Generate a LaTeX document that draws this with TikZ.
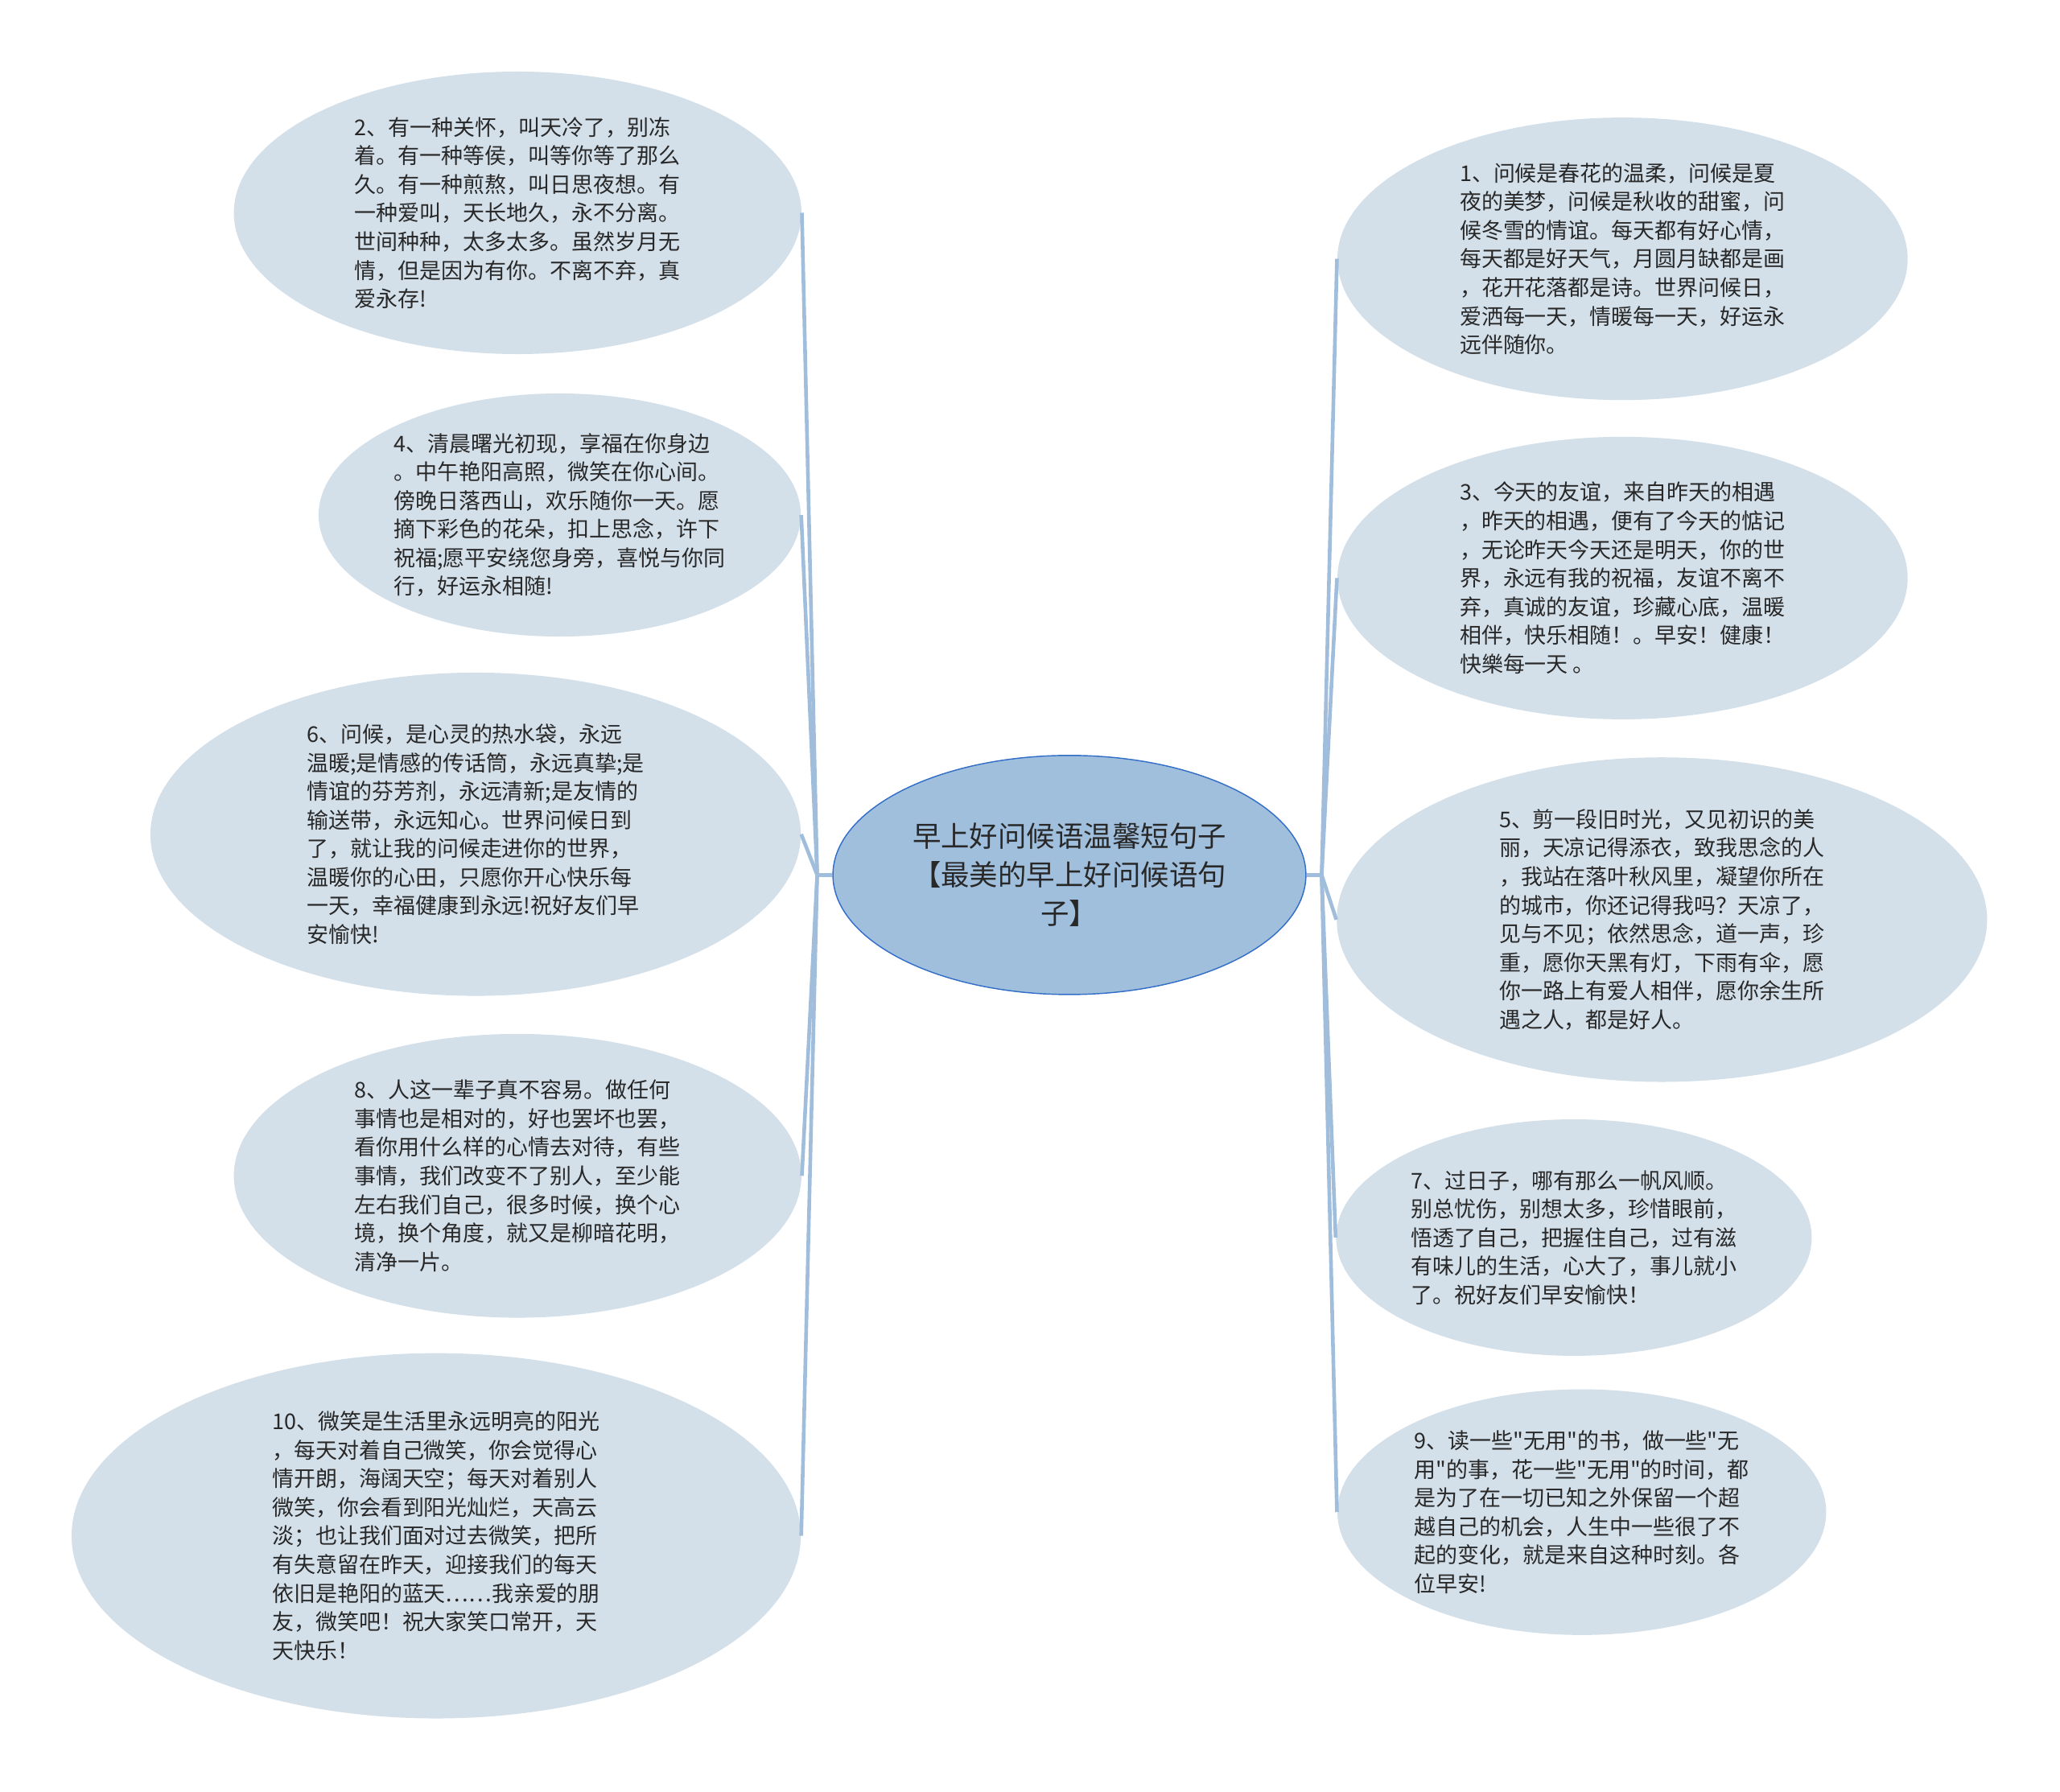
\documentclass[tikz,border=0pt]{standalone}
\usepackage{fontspec}
\setmainfont{Noto Sans CJK SC}[Ligatures=TeXOff]
\usepackage{xcolor}
\usetikzlibrary{shapes.geometric}
\definecolor{leaffill}{RGB}{211,224,234}
\definecolor{rootfill}{RGB}{160,191,221}
\definecolor{rootline}{RGB}{50,110,200}
\definecolor{linkblue}{RGB}{160,190,219}
\definecolor{textgray}{RGB}{40,40,40}

\begin{document}
\begin{tikzpicture}[
  x=0.2mm, y=-0.2mm,
  leaf/.style={ellipse, fill=leaffill, draw=none, inner sep=0pt, align=left,
    text=textgray, font=\fontsize{9.4}{12.4}\selectfont},
  root/.style={ellipse, fill=rootfill, draw=rootline, line width=0.5pt, inner sep=0pt,
    align=center, text=textgray, font=\fontsize{12.35}{16.7}\selectfont},
  link/.style={draw=linkblue, line width=1.6pt},
]
\fill[white] (0,0) rectangle (1568,1364);
\useasboundingbox (0,0) rectangle (1568,1364);

% --- Centre ---
\node[root, minimum width=72mm, minimum height=36.4mm] (root) at (814,666)
  {早上好问候语温馨短句子\\【最美的早上好问候语句\\子】};

% --- Left branch ---
\node[leaf, minimum width=86.4mm, minimum height=43mm] (e2) at (394,162)
  {2、有一种关怀，叫天冷了，别冻\\着。有一种等侯，叫等你等了那么\\久。有一种煎熬，叫日思夜想。有\\一种爱叫，天长地久，永不分离。\\世间种种，太多太多。虽然岁月无\\情，但是因为有你。不离不弃，真\\爱永存!};
\node[leaf, minimum width=73.4mm, minimum height=37mm] (e4) at (426,392)
  {4、清晨曙光初现，享福在你身边\\。中午艳阳高照，微笑在你心间。\\傍晚日落西山，欢乐随你一天。愿\\摘下彩色的花朵，扣上思念，许下\\祝福;愿平安绕您身旁，喜悦与你同\\行，好运永相随!};
\node[leaf, minimum width=99mm, minimum height=49.2mm] (e6) at (362,635)
  {6、问候，是心灵的热水袋，永远\\温暖;是情感的传话筒，永远真挚;是\\情谊的芬芳剂，永远清新;是友情的\\输送带，永远知心。世界问候日到\\了，就让我的问候走进你的世界，\\温暖你的心田，只愿你开心快乐每\\一天，幸福健康到永远!祝好友们早\\安愉快!};
\node[leaf, minimum width=86.4mm, minimum height=43.2mm] (e8) at (394,895)
  {8、人这一辈子真不容易。做任何\\事情也是相对的，好也罢坏也罢，\\看你用什么样的心情去对待，有些\\事情，我们改变不了别人，至少能\\左右我们自己，很多时候，换个心\\境，换个角度，就又是柳暗花明，\\清净一片。};
\node[leaf, minimum width=111mm, minimum height=55.6mm] (e10) at (332,1169)
  {10、微笑是生活里永远明亮的阳光\\，每天对着自己微笑，你会觉得心\\情开朗，海阔天空；每天对着别人\\微笑，你会看到阳光灿烂，天高云\\淡；也让我们面对过去微笑，把所\\有失意留在昨天，迎接我们的每天\\依旧是艳阳的蓝天……我亲爱的朋\\友，微笑吧！祝大家笑口常开，天\\天快乐！};

% --- Right branch ---
\node[leaf, minimum width=86.8mm, minimum height=43mm] (e1) at (1235,197)
  {1、问候是春花的温柔，问候是夏\\夜的美梦，问候是秋收的甜蜜，问\\候冬雪的情谊。每天都有好心情，\\每天都是好天气，月圆月缺都是画\\，花开花落都是诗。世界问候日，\\爱洒每一天，情暖每一天，好运永\\远伴随你。};
\node[leaf, minimum width=86.8mm, minimum height=43mm] (e3) at (1235,440)
  {3、今天的友谊，来自昨天的相遇\\，昨天的相遇，便有了今天的惦记\\，无论昨天今天还是明天，你的世\\界，永远有我的祝福，友谊不离不\\弃，真诚的友谊，珍藏心底，温暖\\相伴，快乐相随！。早安！健康！\\快樂每一天 。};
\node[leaf, minimum width=99mm, minimum height=49.4mm] (e5) at (1265,700)
  {5、剪一段旧时光，又见初识的美\\丽，天凉记得添衣，致我思念的人\\，我站在落叶秋风里，凝望你所在\\的城市，你还记得我吗？天凉了，\\见与不见；依然思念，道一声，珍\\重，愿你天黑有灯，下雨有伞，愿\\你一路上有爱人相伴，愿你余生所\\遇之人，都是好人。};
\node[leaf, minimum width=72.4mm, minimum height=36mm] (e7) at (1198,942)
  {7、过日子，哪有那么一帆风顺。\\别总忧伤，别想太多，珍惜眼前，\\悟透了自己，把握住自己，过有滋\\有味儿的生活，心大了，事儿就小\\了。祝好友们早安愉快！};
\node[leaf, minimum width=74.4mm, minimum height=37.4mm] (e9) at (1204,1151)
  {9、读一些"无用"的书，做一些"无\\用"的事，花一些"无用"的时间，都\\是为了在一切已知之外保留一个超\\越自己的机会，人生中一些很了不\\起的变化，就是来自这种时刻。各\\位早安!};

% --- Junctions ---
\coordinate (lj) at (622,666);
\coordinate (rj) at (1006,666);

% --- Connectors ---
\draw[link] (root.west) -- (lj);
\draw[link] (lj) -- (e2.east);
\draw[link] (lj) -- (e4.east);
\draw[link] (lj) -- (e6.east);
\draw[link] (lj) -- (e8.east);
\draw[link] (lj) -- (e10.east);
\draw[link] (root.east) -- (rj);
\draw[link] (rj) -- (e1.west);
\draw[link] (rj) -- (e3.west);
\draw[link] (rj) -- (e5.west);
\draw[link] (rj) -- (e7.west);
\draw[link] (rj) -- (e9.west);

\end{tikzpicture}
\end{document}
